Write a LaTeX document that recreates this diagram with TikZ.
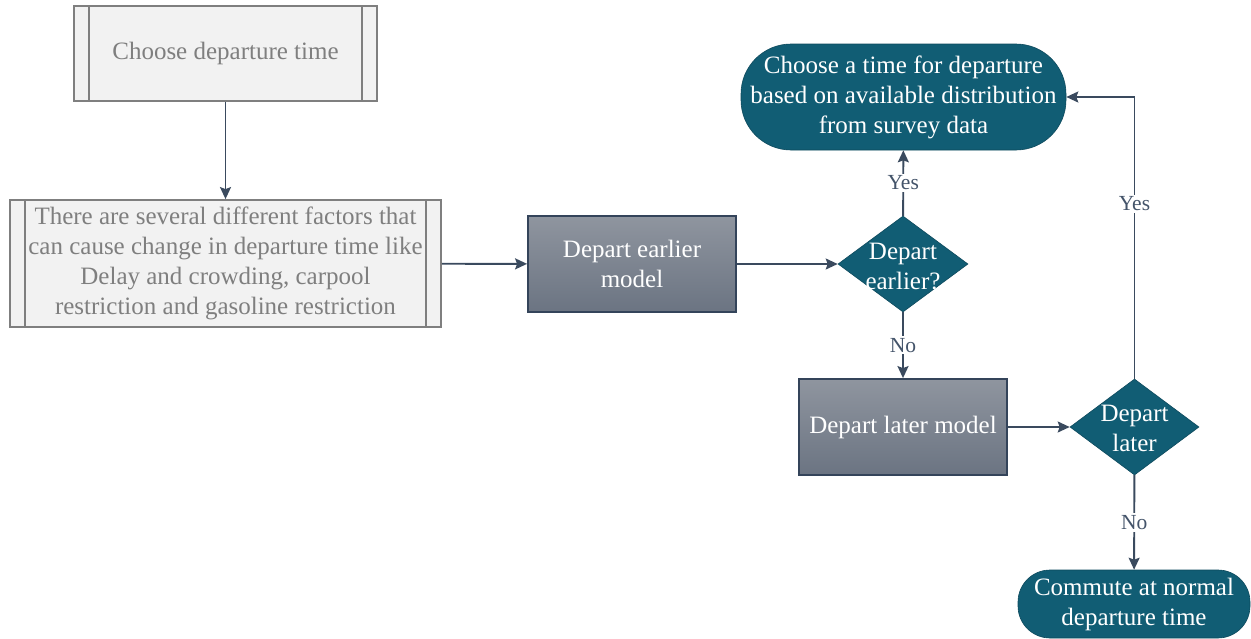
\documentclass[tikz,border=0pt]{standalone}
\usepackage{fontspec}
\setmainfont{Liberation Serif}
\usetikzlibrary{shapes.geometric,arrows.meta}
\definecolor{teal}{HTML}{115D74}
\definecolor{edge}{HTML}{3A4A5E}
\definecolor{greytext}{HTML}{7F7F7F}
\definecolor{boxfill}{HTML}{F2F2F2}
\definecolor{modtop}{HTML}{8F959F}
\definecolor{modbot}{HTML}{6B7482}
\definecolor{modline}{HTML}{34445A}
\definecolor{lbl}{HTML}{44546A}
\tikzset{
  bigfont/.style={font=\fontsize{25}{30}\selectfont},
  procbox/.style={rectangle, draw=greytext, line width=1.8pt, fill=boxfill,
    text=greytext, bigfont, align=center, inner sep=0pt},
  modelbox/.style={rectangle, draw=modline, line width=1.8pt,
    top color=modtop, bottom color=modbot, text=white, bigfont, align=center, inner sep=0pt},
  decision/.style={diamond, fill=teal, draw=teal!80!black, line width=0.6pt, inner sep=0pt},
  terminal/.style={rectangle, fill=teal, draw=teal!80!black, line width=0.6pt,
    text=white, bigfont, align=center, inner sep=0pt},
  plain/.style={text=white, bigfont, align=center, inner sep=0pt},
  flow/.style={draw=edge, line width=1.9pt, -{Stealth[length=12pt,width=11pt,inset=2pt]}},
  choice/.style={fill=white, text=lbl, font=\fontsize{21.5}{24}\selectfont, inner sep=2pt},
}
\begin{document}
\begin{tikzpicture}[x=1pt,y=-1pt]
\useasboundingbox (0,0) rectangle (1251,638);

% predefined-process boxes
\node[procbox, minimum width=303pt, minimum height=95pt] (start) at (225.5,53.5) {Choose departure time};
\draw[greytext, line width=1.8pt] ([xshift=16pt]start.north west) -- ([xshift=16pt]start.south west)
  ([xshift=-16pt]start.north east) -- ([xshift=-16pt]start.south east);

\node[procbox, minimum width=431pt, minimum height=127pt] (factors) at (225.5,263.5)
  {There are several different factors that\\can cause change in departure time like\\Delay and crowding, carpool\\restriction and gasoline restriction};
\draw[greytext, line width=1.8pt] ([xshift=16pt]factors.north west) -- ([xshift=16pt]factors.south west)
  ([xshift=-16pt]factors.north east) -- ([xshift=-16pt]factors.south east);

% model boxes
\node[modelbox, minimum width=208pt, minimum height=96pt] (earlier) at (632,264) {Depart earlier\\model};
\node[modelbox, minimum width=208pt, minimum height=96pt] (later) at (903,427) {Depart later model};

% decisions
\node[decision, minimum width=130pt, minimum height=96pt] (q1) at (903,264) {};
\node[plain] (q1t) at ([yshift=-2pt]q1) {Depart\\earlier?};
\node[decision, minimum width=129pt, minimum height=96pt] (q2) at (1134.5,427) {};
\node[plain] (q2t) at ([yshift=-1.5pt]q2) {Depart\\later};

% terminals
\node[terminal, minimum width=325pt, minimum height=106pt, rounded corners=50pt] (choose) at (903.5,97)
  {Choose a time for departure\\based on available distribution\\from survey data};
\node[terminal, minimum width=232pt, minimum height=68pt, rounded corners=32pt] (normal) at (1134,604)
  {Commute at normal\\departure time};

% connectors
\draw[flow] (start) -- (factors);
\draw[flow] (factors) -- (earlier);
\draw[flow] (earlier) -- (q1);
\draw[flow] (q1) -- node[choice] (yes1) {Yes} (choose);
\draw[flow] (q1) -- node[choice] (no1) {No} (later);
\draw[flow] (later) -- (q2);
\draw[flow] (q2.north) -- node[choice, pos=0.62] (yes2) {Yes} (q2.north |- choose.east) -- (choose.east);
\draw[flow] (q2) -- node[choice] (no2) {No} (normal);
\end{tikzpicture}
\end{document}
